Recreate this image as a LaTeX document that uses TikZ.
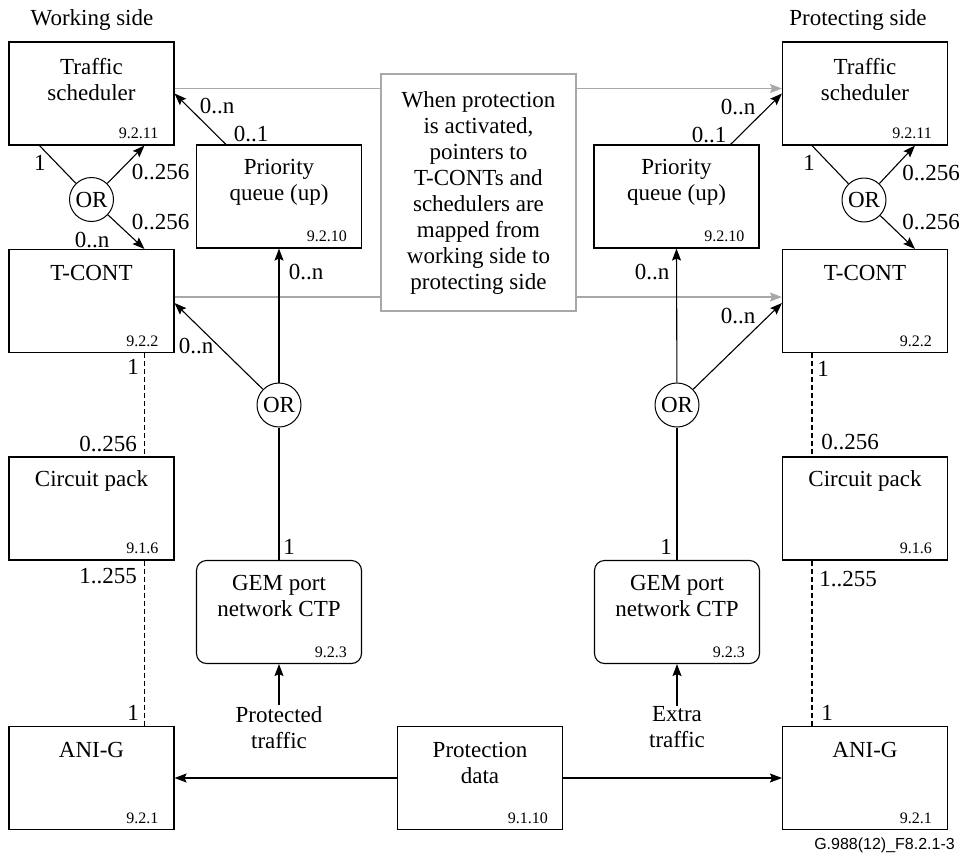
\documentclass[tikz,border=0pt]{standalone}
\usepackage{fontspec}
\setmainfont{Liberation Serif}
\newfontfamily\labsans{Liberation Sans}
\usetikzlibrary{arrows.meta}
\definecolor{gline}{HTML}{A8A8A8}
\begin{document}
\begin{tikzpicture}[x=1pt,y=-1pt,
  box/.style={draw, line width=1.1pt, minimum width=165pt, minimum height=103pt, inner sep=0pt},
  gembox/.style={box, rounded corners=10pt},
  ttl/.style={font=\fontsize{23}{26}\selectfont, align=center, inner sep=0pt},
  num/.style={font=\fontsize{16}{18}\selectfont, inner sep=0pt, anchor=east},
  lab/.style={font=\fontsize{23}{26}\selectfont, inner sep=0pt},
  orc/.style={draw, circle, line width=1pt, minimum size=44pt, inner sep=0pt, font=\fontsize{23}{26}\selectfont},
  conn/.style={line width=1.1pt},
  arr/.style={conn, -{Stealth[length=12pt,width=9pt,inset=2pt]}},
  garr/.style={line width=1.1pt, draw=gline, -{Stealth[length=12pt,width=9pt,inset=2pt]}},
  dsh/.style={line width=1.1pt, dash pattern=on 5pt off 3pt},
]
\useasboundingbox (0,0) rectangle (964,854);

% side titles
\node[lab] (wside) at (92,20) {Working side};
\node[lab] (pside) at (858,20) {Protecting side};

% left column
\node[box] (tsL) at (91.5,93.5) {};
\node[ttl] (tsLt) at ([yshift=-38pt]tsL.north) {Traffic\\scheduler};
\node[num] (tsLn) at ([xshift=-16pt,yshift=12pt]tsL.south east) {9.2.11};

\node[box] (tcL) at (91.5,301) {};
\node[ttl] (tcLt) at ([yshift=-24pt]tcL.north) {T-CONT};
\node[num] (tcLn) at ([xshift=-16pt,yshift=12pt]tcL.south east) {9.2.2};

\node[box] (cpL) at (91.5,508.5) {};
\node[ttl] (cpLt) at ([yshift=-25pt]cpL.north) {Circuit pack};
\node[num] (cpLn) at ([xshift=-16pt,yshift=12pt]cpL.south east) {9.1.6};

\node[box] (aniL) at (91.5,778) {};
\node[ttl] (aniLt) at ([yshift=-24pt]aniL.north) {ANI-G};
\node[num] (aniLn) at ([xshift=-16pt,yshift=12pt]aniL.south east) {9.2.1};

\node[box] (pqL) at (279,196.5) {};
\node[ttl] (pqLt) at ([yshift=-38pt]pqL.north) {Priority\\queue (up)};
\node[num] (pqLn) at ([xshift=-15pt,yshift=12pt]pqL.south east) {9.2.10};

\node[gembox] (gemL) at (279,612) {};
\node[ttl] (gemLt) at ([yshift=-36pt]gemL.north) {GEM port\\network CTP};
\node[num] (gemLn) at ([xshift=-15pt,yshift=12pt]gemL.south east) {9.2.3};

% middle
\node[box] (pd) at (480,778) {};
\node[ttl] (pdt) at ([yshift=-37pt]pd.north) {Protection\\data};
\node[num] (pdn) at ([xshift=-15pt,yshift=12pt]pd.south east) {9.1.10};

% right column
\node[box] (tsR) at (865,93.5) {};
\node[ttl] (tsRt) at ([yshift=-38pt]tsR.north) {Traffic\\scheduler};
\node[num] (tsRn) at ([xshift=-16pt,yshift=12pt]tsR.south east) {9.2.11};

\node[box] (tcR) at (865,301) {};
\node[ttl] (tcRt) at ([yshift=-24pt]tcR.north) {T-CONT};
\node[num] (tcRn) at ([xshift=-16pt,yshift=12pt]tcR.south east) {9.2.2};

\node[box] (cpR) at (865,508.5) {};
\node[ttl] (cpRt) at ([yshift=-25pt]cpR.north) {Circuit pack};
\node[num] (cpRn) at ([xshift=-16pt,yshift=12pt]cpR.south east) {9.1.6};

\node[box] (aniR) at (865,778) {};
\node[ttl] (aniRt) at ([yshift=-24pt]aniR.north) {ANI-G};
\node[num] (aniRn) at ([xshift=-16pt,yshift=12pt]aniR.south east) {9.2.1};

\node[box] (pqR) at (676.5,196.5) {};
\node[ttl] (pqRt) at ([yshift=-38pt]pqR.north) {Priority\\queue (up)};
\node[num] (pqRn) at ([xshift=-15pt,yshift=12pt]pqR.south east) {9.2.10};

\node[gembox] (gemR) at (677,612) {};
\node[ttl] (gemRt) at ([yshift=-36pt]gemR.north) {GEM port\\network CTP};
\node[num] (gemRn) at ([xshift=-15pt,yshift=12pt]gemR.south east) {9.2.3};

% gray mapping arrows and note
\draw[garr] ([yshift=5pt]tsL.east) -- ([yshift=5pt]tsR.west);
\draw[garr] ([yshift=4pt]tcL.east) -- ([yshift=4pt]tcR.west);
\node[ttl, draw=gline, line width=1.1pt, fill=white, minimum width=195pt, minimum height=237pt] (note) at (478.5,192.5)
  {When protection\\is activated,\\pointers to\\T-CONTs and\\schedulers are\\mapped from\\working side to\\protecting side};

% OR circles
\node[orc] (or1) at (91.5,199.5) {OR};
\node[orc] (or2) at (864,200) {OR};
\node[orc] (or3) at (279,405) {OR};
\node[orc] (or4) at (677,405) {OR};

% top-left OR connectors
\coordinate (tsLa) at ([xshift=31pt]tsL.south west);
\coordinate (tsLb) at ([xshift=136pt]tsL.south west);
\coordinate (tcLb) at ([xshift=136pt]tcL.north west);
\draw[conn] (tsLa) -- (or1);
\draw[arr] (or1) -- (tsLb);
\draw[arr] (or1) -- (tcLb);
\node[lab] (l1) at (40,163) {1};
\node[lab] (l2) at (160.5,172) {0..256};
\node[lab] (l3) at (160.5,222) {0..256};
\node[lab] (l4) at (92,240) {0..n};

% top-right OR connectors
\coordinate (tsRa) at ([xshift=30pt]tsR.south west);
\coordinate (tsRb) at ([xshift=133pt]tsR.south west);
\coordinate (tcRb) at ([xshift=133pt]tcR.north west);
\draw[conn] (tsRa) -- (or2);
\draw[arr] (or2) -- (tsRb);
\draw[arr] (or2) -- (tcRb);
\node[lab] (r1) at (809,163) {1};
\node[lab] (r2) at (931,173) {0..256};
\node[lab] (r3) at (931,222) {0..256};

% priority queues to schedulers
\coordinate (pqLa) at ([xshift=30pt]pqL.north west);
\coordinate (pqRa) at ([xshift=-29pt]pqR.north east);
\draw[arr] (pqLa) -- (tsL.east);
\draw[arr] (pqRa) -- (tsR.west);
\node[lab] (l5) at (217,106) {0..n};
\node[lab] (l6) at (251,134) {0..1};
\node[lab] (r5) at (738,107) {0..n};
\node[lab] (r6) at (709,135) {0..1};

% GEM ports, ORs, queues, T-CONTs
\draw[conn] (gemL.north) -- (or3);
\draw[arr] (or3) -- (pqL.south);
\draw[arr] (or3) -- ([yshift=-2pt]tcL.east);
\draw[conn] (gemR.north) -- (or4);
\draw[arr] (or4) -- (pqR.south);
\draw[arr] (or4) -- ([yshift=-2pt]tcR.west);
\node[lab] (l7) at (306,272) {0..n};
\node[lab] (l8) at (196,346) {0..n};
\node[lab] (l9) at (289,547) {1};
\node[lab] (r7) at (652,272) {0..n};
\node[lab] (r8) at (738,316) {0..n};
\node[lab] (r9) at (666,547) {1};

% dashed links
\coordinate (dL1) at ([xshift=136pt]tcL.south west);
\coordinate (dL2) at ([xshift=136pt]cpL.north west);
\coordinate (dL3) at ([xshift=136pt]cpL.south west);
\coordinate (dL4) at ([xshift=136pt]aniL.north west);
\draw[dsh] (dL1) -- (dL2);
\draw[dsh] (dL3) -- (dL4);
\coordinate (dR1) at ([xshift=30pt]tcR.south west);
\coordinate (dR2) at ([xshift=30pt]cpR.north west);
\coordinate (dR3) at ([xshift=30pt]cpR.south west);
\coordinate (dR4) at ([xshift=30pt]aniR.north west);
\draw[dsh] (dR1) -- (dR2);
\draw[dsh] (dR3) -- (dR4);
\node[lab] (l10) at (133,367) {1};
\node[lab] (l11) at (108,444) {0..256};
\node[lab] (l12) at (108,576) {1..255};
\node[lab] (l13) at (133,713) {1};
\node[lab] (r10) at (823,369) {1};
\node[lab] (r11) at (850,442) {0..256};
\node[lab] (r12) at (848,579) {1..255};
\node[lab] (r13) at (827,713) {1};

% traffic inputs
\node[ttl, inner sep=1pt] (ptxt) at (279,727.5) {Protected\\traffic};
\node[ttl, inner sep=1pt] (etxt) at (677,727.5) {Extra\\traffic};
\draw[arr] (ptxt.north) -- (gemL.south);
\draw[arr] (etxt.north) -- (gemR.south);

% protection data
\draw[arr] (pd.west) -- (aniL.east);
\draw[arr] (pd.east) -- (aniR.west);

% figure id
\node[font=\labsans\fontsize{16}{18}\selectfont, inner sep=0pt, anchor=east] (figid) at (955,845) {G.988(12)\_F8.2.1-3};
\end{tikzpicture}
\end{document}
